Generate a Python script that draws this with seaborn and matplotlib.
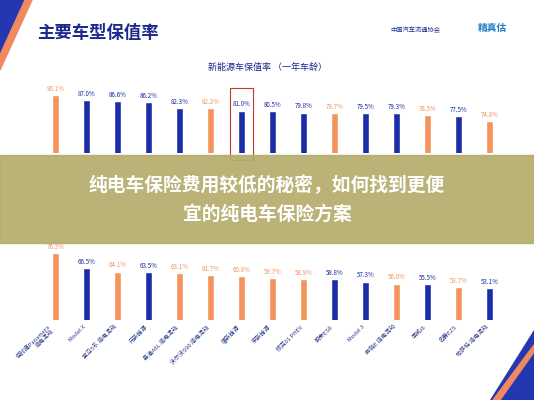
import matplotlib
matplotlib.use("Agg")
import matplotlib.pyplot as plt
import seaborn as sns
import pandas as pd
from matplotlib.patches import Rectangle, Polygon

sns.set_theme(style="white")
plt.rcParams['font.family'] = ['Noto Sans CJK SC', 'DejaVu Sans']

ORANGE = "#F3945C"
NAVY = "#1B2DA6"

top_vals = [90.1, 87.0, 86.6, 86.2, 82.3, 82.2, 81.0, 80.5, 79.8, 79.7, 79.5, 79.3, 78.5, 77.5, 74.8]
top_kind = ["o", "b", "b", "b", "b", "o", "b", "b", "b", "o", "b", "b", "o", "b", "o"]

bot_cats = ["保时捷Panamera\n插电混动", "Model X", "宝马5系 插电混动", "元新能源", "奥迪A6L 插电混动",
            "沃尔沃S90 插电混动", "唐新能源", "宋新能源", "领克01 PHEV", "蔚来ES8", "Model 3",
            "奔驰E 插电混动", "荣威i6", "名爵EZS", "帕萨特 插电混动"]
bot_vals = [76.3, 66.5, 64.1, 63.5, 63.1, 61.7, 60.8, 59.7, 58.9, 58.8, 57.3, 56.0, 55.5, 53.7, 53.1]
bot_kind = ["o", "b", "o", "b", "o", "o", "o", "o", "o", "b", "b", "o", "b", "o", "b"]

W, H = 534, 400
fig = plt.figure(figsize=(5.34, 4.0), dpi=100)
fig.patch.set_facecolor("white")

def fy(px):
    return 1 - px / H

pal = {"o": ORANGE, "b": NAVY}

def draw(ax, vals, kinds, cats, lo, hi):
    df = pd.DataFrame({"x": list(range(len(vals))), "v": vals, "k": kinds})
    sns.barplot(data=df, x="x", y="v", hue="k", palette=pal, width=0.25, ax=ax, legend=False,
                dodge=False, saturation=1)
    ax.set_ylim(lo, hi)
    for i, (v, k) in enumerate(zip(vals, kinds)):
        ax.text(i, v + (hi - lo) * 0.03, f"{v:.1f}%", ha="center", va="bottom", fontsize=4.5,
                color=ORANGE if k == "o" else NAVY)
    ax.axhline(lo, color="#cccccc", lw=0.6, ls=":")
    sns.despine(ax=ax, left=True, bottom=True)
    ax.set_yticks([])
    ax.set_xlabel(""); ax.set_ylabel("")
    if cats:
        ax.set_xticks(range(len(cats)))
        ax.set_xticklabels(cats, rotation=45, ha="right", fontsize=4.2, color="#2a3a8a")
        ax.tick_params(axis="x", length=0, pad=3)
    else:
        ax.set_xticks([])

x0, x1 = 40 / W, 505 / W
ax1 = fig.add_axes([x0, fy(153), x1 - x0, (153 - 85) / H])
draw(ax1, top_vals, top_kind, None, 56, 96)
ax2 = fig.add_axes([x0, fy(320), x1 - x0, (320 - 240) / H])
draw(ax2, bot_vals, bot_kind, bot_cats, 31.6, 85.3)

# red highlight box around 81.0
ax1.add_patch(Rectangle((5.62, 52), 0.76, 42, fill=False, ec="#C0392B", lw=0.8, clip_on=False))

fig.text(37 / W, fy(33), "主要车型保值率", fontsize=12.5, fontweight="bold", color="#1B2A8C", va="center")
fig.text(390 / W, fy(30), "中国汽车流通协会", fontsize=4.5, color="#1B2A8C", va="center")
fig.text(478 / W, fy(28), "精真估", fontsize=7, color="#1E7FC0", va="center", fontweight="bold")
fig.text(0.5, fy(67), "新能源车保值率 （一年车龄）", fontsize=6.5, color="#1B2A8C", ha="center", va="center")

# banner
fig.add_artist(Rectangle((0, fy(243)), 1, (243 - 155) / H, transform=fig.transFigure,
                         color="#B5AC6C", alpha=0.93, zorder=5))
fig.text(0.5, fy(186), "纯电车保险费用较低的秘密，如何找到更便", fontsize=13.5, fontweight="bold",
         color="white", ha="center", va="center", zorder=6)
fig.text(0.5, fy(214), "宜的纯电车保险方案", fontsize=13.5, fontweight="bold",
         color="white", ha="center", va="center", zorder=6)

# decorative corners
fig.add_artist(Polygon([(0, 1), (25 / W, 1), (0, fy(55))], closed=True, transform=fig.transFigure, color="#2338B0"))
fig.add_artist(Polygon([(25 / W, 1), (32 / W, 1), (0, fy(70)), (0, fy(55))], closed=True, transform=fig.transFigure, color="#F08860"))
fig.add_artist(Polygon([(1, fy(330)), (1, 0), (490 / W, 0)], closed=True, transform=fig.transFigure, color="#2338B0"))
fig.add_artist(Polygon([(1, fy(345)), (1, fy(352)), (500 / W, 0), (493 / W, 0)], closed=True, transform=fig.transFigure, color="#F08860"))

fig.savefig("out.png", dpi=100, facecolor="white")
